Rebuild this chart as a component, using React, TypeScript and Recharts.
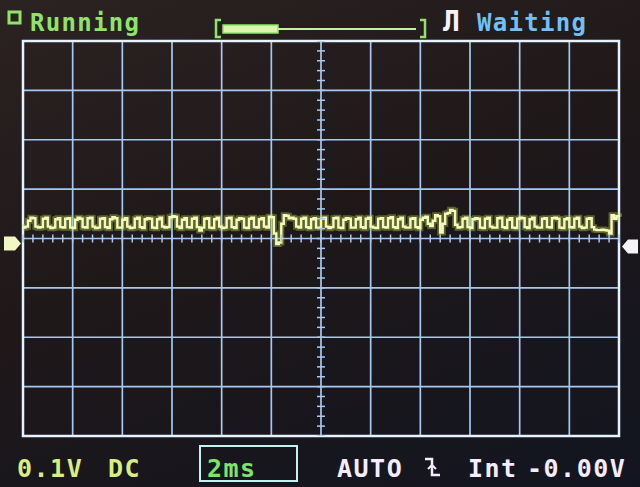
import {
  ComposedChart,
  Line,
  Scatter,
  XAxis,
  YAxis,
  CartesianGrid,
  ReferenceArea,
  ReferenceDot,
} from "recharts";

// time base: 2ms/div, 12 divisions; vertical 0.1V/div (values in mV), 8 divisions
const xTicks = [0, 2, 4, 6, 8, 10, 12, 14, 16, 18, 20, 22, 24];
const yTicks = [-400, -300, -200, -100, 0, 100, 200, 300, 400];
const sampleStepMs = 0.1;

// CH1 trace in mV, one row per ms (10 samples)
const traceMv = [
  22, 24, 36, 42, 41, 24, 22, 23, 40, 42,
  24, 21, 22, 39, 41, 23, 22, 40, 41, 22,
  21, 38, 42, 40, 23, 22, 41, 42, 24, 21,
  22, 40, 41, 23, 21, 39, 43, 41, 22, 22,
  38, 41, 24, 21, 22, 40, 42, 23, 21, 39,
  41, 40, 22, 21, 39, 42, 24, 22, 23, 43,
  45, 44, 24, 21, 38, 41, 23, 22, 40, 42,
  23, 16, 22, 40, 41, 22, 21, 39, 42, 24,
  21, 22, 41, 42, 23, 21, 38, 41, 40, 22,
  21, 40, 42, 23, 22, 39, 41, 24, 22, 44,
  43, 10, -11, -8, 30, 47, 46, 41, 42, 40,
  24, 22, 40, 42, 23, 21, 39, 41, 22, 22,
  40, 42, 24, 21, 23, 41, 42, 22, 21, 38,
  41, 40, 22, 22, 39, 42, 23, 21, 40, 42,
  24, 22, 21, 40, 41, 23, 22, 41, 43, 23,
  21, 39, 42, 24, 22, 22, 40, 41, 23, 21,
  38, 42, 44, 30, 25, 36, 47, 45, 12, 30,
  50, 52, 58, 56, 28, 22, 23, 40, 42, 23,
  21, 39, 41, 40, 22, 21, 40, 42, 24, 22,
  22, 41, 42, 23, 21, 38, 41, 22, 21, 40,
  42, 41, 23, 21, 39, 42, 24, 22, 22, 40,
  41, 23, 22, 41, 42, 40, 22, 21, 39, 41,
  23, 22, 40, 42, 24, 21, 22, 40, 41, 23,
  18, 17, 17, 18, 17, 16, 10, 47, 40, 45,
  44,
];

const trace = traceMv.map((mv, i) => ({ t: +(i * sampleStepMs).toFixed(1), mv }));

// minor ticks on the centre cross: 5 per division
const minorX: { t: number; v: number }[] = [];
for (let i = 0; i <= 60; i++) minorX.push({ t: +(i * 0.4).toFixed(1), v: 0 });
const minorY: { t: number; v: number }[] = [];
for (let i = 0; i <= 40; i++) minorY.push({ t: 12, v: -400 + i * 20 });

const GRID = "#a6c8f2";
const FONT = "'DejaVu Sans Mono', monospace";

const TickV = (p: any) => (
  <line x1={p.cx} x2={p.cx} y1={p.cy - 4} y2={p.cy + 4} stroke={GRID} strokeWidth={1.5} />
);
const TickH = (p: any) => (
  <line x1={p.cx - 4} x2={p.cx + 4} y1={p.cy} y2={p.cy} stroke={GRID} strokeWidth={1.5} />
);

const GroundMarker = (p: any) => {
  const x = p.cx, y = p.cy + 5;
  return (
    <polygon
      points={`${x - 19},${y - 7} ${x - 8},${y - 7} ${x - 2},${y} ${x - 8},${y + 7} ${x - 19},${y + 7}`}
      fill="#f2f5c4"
    />
  );
};
const TrigMarker = (p: any) => {
  const x = p.cx, y = p.cy + 8;
  return (
    <polygon
      points={`${x + 19},${y - 7} ${x + 9},${y - 7} ${x + 3},${y} ${x + 9},${y + 7} ${x + 19},${y + 7}`}
      fill="#f4f4f8"
    />
  );
};

export default function App() {
  return (
    <div
      style={{
        position: "relative",
        width: 640,
        height: 487,
        background: "linear-gradient(160deg, #2b2322 0%, #1f1819 45%, #121520 100%)",
        overflow: "hidden",
      }}
    >
      <style>{"body{margin:0;overflow:hidden}"}</style>
      <ComposedChart
        width={640}
        height={487}
        data={trace}
        margin={{ top: 41, left: 23, right: 21, bottom: 51 }}
      >
        <XAxis dataKey="t" type="number" domain={[0, 24]} ticks={xTicks} hide />
        <YAxis type="number" domain={[-400, 400]} ticks={yTicks} hide allowDataOverflow />
        <CartesianGrid
          stroke={GRID}
          strokeWidth={1.7}
          horizontalValues={yTicks}
          verticalValues={xTicks}
        />
        <Scatter data={minorX} dataKey="v" shape={TickV} isAnimationActive={false} />
        <Scatter data={minorY} dataKey="v" shape={TickH} isAnimationActive={false} />
        <ReferenceArea x1={0} x2={24} y1={-400} y2={400} fill="none" stroke="#e6f2ff" strokeWidth={2.5} />
        <Line
          dataKey="mv"
          type="stepAfter"
          stroke="#b8d84a"
          strokeWidth={6}
          strokeOpacity={0.4}
          dot={false}
          isAnimationActive={false}
        />
        <Line
          dataKey="mv"
          type="stepAfter"
          stroke="#f6f9bc"
          strokeWidth={2.4}
          dot={false}
          isAnimationActive={false}
        />
        <ReferenceDot x={0} y={0} r={0} shape={GroundMarker} ifOverflow="visible" />
        <ReferenceDot x={24} y={0} r={0} shape={TrigMarker} ifOverflow="visible" />
      </ComposedChart>

      <svg
        width={640}
        height={487}
        style={{ position: "absolute", left: 0, top: 0, pointerEvents: "none" }}
      >
        {/* status line */}
        <rect x={9} y={12} width={11} height={11} fill="none" stroke="#8fe36a" strokeWidth={3} />
        <text x={30} y={31} fontFamily={FONT} fontWeight="bold" fontSize={24} letterSpacing={1.3} fill="#8fe36a">
          Running
        </text>
        <path d="M221 20 H216 V37 H221" fill="none" stroke="#8fe36a" strokeWidth={2.5} />
        <path d="M420 20 H425 V37 H420" fill="none" stroke="#8fe36a" strokeWidth={2.5} />
        <rect x={223} y={25} width={55} height={8} fill="#dcf6b0" stroke="#8fe36a" strokeWidth={1.5} />
        <line x1={278} x2={416} y1={29} y2={29} stroke="#c8f0a0" strokeWidth={2} />
        <text x={443} y={31} fontFamily={FONT} fontWeight="bold" fontSize={28} fill="#f4f4ff">
          Л
        </text>
        <text x={477} y={31} fontFamily={FONT} fontWeight="bold" fontSize={24} letterSpacing={1.3} fill="#72c0f6">
          Waiting
        </text>

        {/* settings line */}
        <text x={17} y={477} fontFamily={FONT} fontWeight="bold" fontSize={25} letterSpacing={1.5} fill="#d9ee82">
          0.1V
        </text>
        <text x={108} y={477} fontFamily={FONT} fontWeight="bold" fontSize={25} letterSpacing={1.5} fill="#d9ee82">
          DC
        </text>
        <rect x={200} y={446} width={97} height={35} fill="none" stroke="#c4f2f0" strokeWidth={2} />
        <text x={207} y={477} fontFamily={FONT} fontWeight="bold" fontSize={25} letterSpacing={1.5} fill="#7de36a">
          2ms
        </text>
        <text x={337} y={477} fontFamily={FONT} fontWeight="bold" fontSize={25} letterSpacing={1.5} fill="#f6ecff">
          AUTO
        </text>
        <path d="M425 459 H432 V475 H440" fill="none" stroke="#f6ecff" strokeWidth={2.5} />
        <path d="M428 469 L432 465 L436 469" fill="none" stroke="#f6ecff" strokeWidth={2} />
        <text x={468} y={477} fontFamily={FONT} fontWeight="bold" fontSize={25} letterSpacing={1.5} fill="#f6ecff">
          Int
        </text>
        <text x={527} y={477} fontFamily={FONT} fontWeight="bold" fontSize={25} letterSpacing={1.5} fill="#f6ecff">
          -0.00V
        </text>
      </svg>
    </div>
  );
}
